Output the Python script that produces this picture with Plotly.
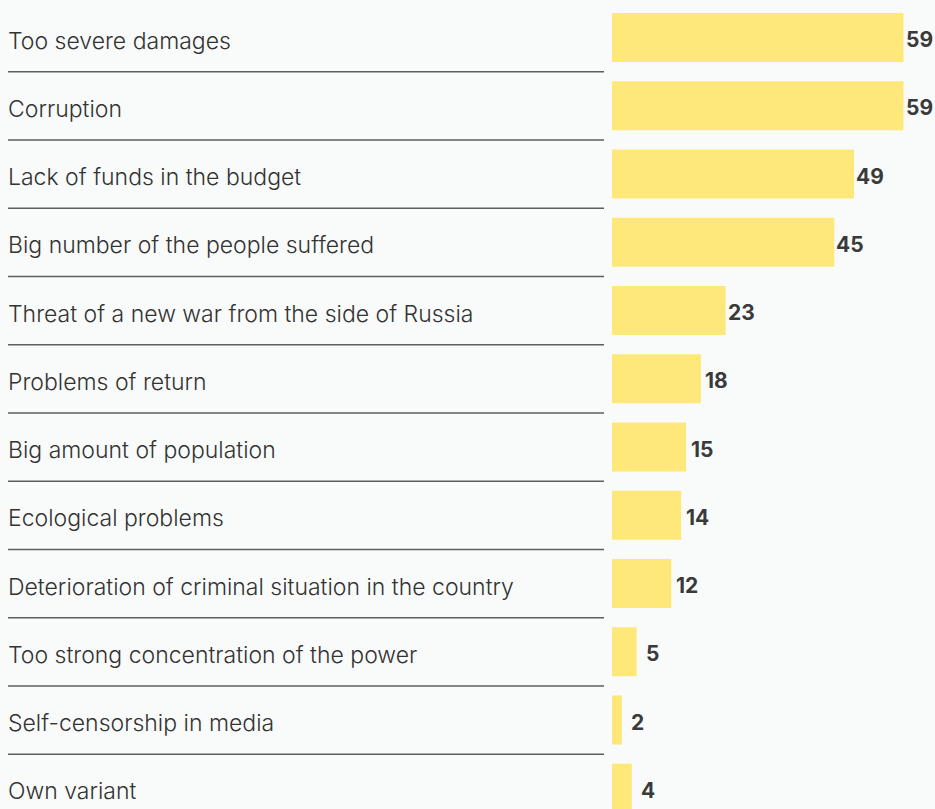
import plotly.graph_objects as go

# Survey answers and shares (%)
categories = [
    "Too severe damages",
    "Corruption",
    "Lack of funds in the budget",
    "Big number of the people suffered",
    "Threat of a new war from the side of Russia",
    "Problems of return",
    "Big amount of population",
    "Ecological problems",
    "Deterioration of criminal situation in the country",
    "Too strong concentration of the power",
    "Self-censorship in media",
    "Own variant",
]
values = [59, 59, 49, 45, 23, 18, 15, 14, 12, 5, 2, 4]

W, H = 935, 809
BG = "#f9fbfa"
BAR = "#fde879"
TEXT = "#333333"
LABEL_FONT = "Inter"

idx = list(range(len(categories)))

fig = go.Figure()
fig.add_trace(go.Bar(
    x=values,
    y=idx,
    orientation="h",
    marker=dict(color=BAR, line=dict(width=0)),
    width=0.72,
    hoverinfo="skip",
))

annotations = []
shapes = []
for i, (cat, v) in enumerate(zip(categories, values)):
    annotations.append(dict(
        x=6 / W, xref="paper", y=i, yref="y",
        text=cat, showarrow=False, xanchor="left", yanchor="middle",
        yshift=-3,
        font=dict(family=LABEL_FONT, size=23, color=TEXT, weight=300),
    ))
    annotations.append(dict(
        x=v, xref="x", y=i, yref="y",
        text=str(v), showarrow=False, xanchor="center", yanchor="middle",
        xshift=16, yshift=-2,
        font=dict(family=LABEL_FONT, size=21, color="#3a3a3a", weight=700),
    ))
    if i < len(categories) - 1:
        shapes.append(dict(
            type="line", xref="paper", yref="y",
            x0=8 / W, x1=604 / W, y0=i + 0.5, y1=i + 0.5,
            line=dict(color="#5e5e5e", width=1.5),
        ))

pitch = 68.25
top_v = -37.5 / pitch
bottom_v = top_v + H / pitch

fig.update_layout(
    width=W, height=H,
    margin=dict(l=0, r=0, t=0, b=0),
    paper_bgcolor=BG, plot_bgcolor=BG,
    showlegend=False,
    xaxis=dict(domain=[612 / W, 1], range=[0, (W - 612) / 4.94],
               visible=False, fixedrange=True),
    yaxis=dict(range=[bottom_v, top_v], visible=False, fixedrange=True),
    annotations=annotations,
    shapes=shapes,
)

fig.write_html("out.html")
